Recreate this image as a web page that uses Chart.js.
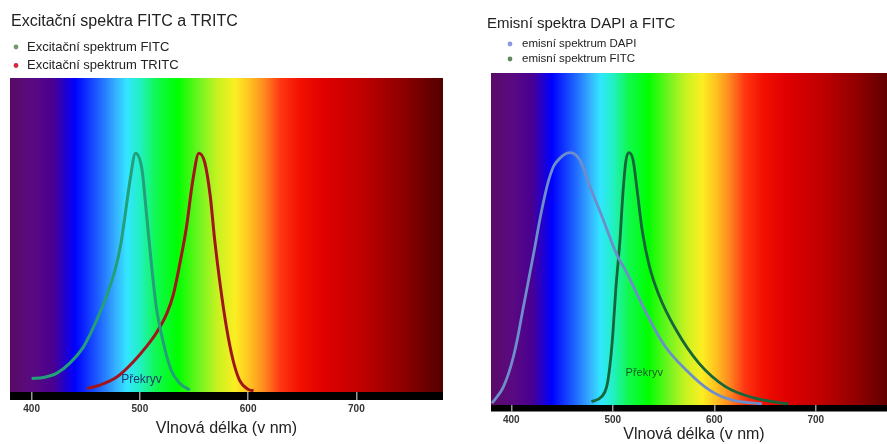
<!DOCTYPE html>
<html>
<head>
<meta charset="utf-8">
<title>Spektra FITC, TRITC, DAPI</title>
<script src="https://cdn.jsdelivr.net/npm/chart.js@4.4.1/dist/chart.umd.min.js"></script>
<style>
  html, body { margin: 0; padding: 0; background: #fff; overflow: hidden; }
  body { width: 887px; height: 444px; position: relative; }
  .panel { position: absolute; top: 0; height: 444px; }
  #left { left: 0; width: 450px; }
  #right { left: 480px; width: 420px; }
</style>
</head>
<body>
<div class="panel" id="left"><canvas id="exChart"></canvas></div>
<div class="panel" id="right"><canvas id="emChart"></canvas></div>
<script>
// rozsah vlnových délek a popisky osy (nm)
const nmMin = 380;
const nmMax = 780;
const tickNm = [400, 500, 600, 700];

// excitační spektrum FITC
const fitcExNm  = [400, 411, 423, 435, 448, 460, 469, 477, 482, 486, 491, 496, 502, 506, 511, 515, 522, 529, 537, 546];
const fitcExVal = [5.7, 6.1, 7.8, 12, 19, 30, 40, 51, 61, 73, 89, 100, 93, 75, 52, 36, 20, 9, 3.6, 0.8];

// excitační spektrum TRITC
const tritcExNm  = [451, 463, 479, 494, 506, 515, 525, 531, 537, 543, 549, 554.5, 560, 565, 569, 574, 580, 586, 592, 600, 605];
const tritcExVal = [1.5, 2.9, 6.4, 12.7, 19, 24.6, 33, 41, 54, 69, 89, 100, 96, 82, 64, 45.5, 27, 13.4, 5, 1.1, 0.5];

// emisní spektrum DAPI
const dapiEmNm  = [381, 392, 402, 412, 422, 432, 441, 450, 458, 465, 471, 477, 490, 504, 513, 533, 552, 572, 595, 617, 647];
const dapiEmVal = [0.7, 7, 19, 39, 60, 81, 94, 98.5, 100, 98.5, 94, 87, 74, 59.5, 53, 36.5, 23, 14, 6, 2, 0.4];

// emisní spektrum FITC
const fitcEmNm  = [479, 489, 494, 497, 500, 503, 507, 510, 513, 516, 520, 524, 529, 536, 545, 562, 585, 611, 640, 673];
const fitcEmVal = [1.3, 3.3, 7.3, 15, 28, 46, 65, 84, 97, 100, 97, 85, 69, 55, 44, 30, 16.5, 7.3, 2.7, 0.4];

// barvy spektra v pozadí
const specNm    = [380, 400, 420, 440, 462, 478, 488, 500, 515, 535, 555, 572, 588, 602, 615, 630, 648, 670, 705, 740, 780];
const specColor = ['#5a0a66', '#5a0a80', '#4a0090', '#0000ff', '#1e62ff', '#36b2ff', '#32e6ff', '#22f0c4', '#10f850', '#00ff00', '#70f420', '#c8f220', '#fcee22', '#ffc020', '#ff8820', '#ff3612', '#f21000', '#e00000', '#c00000', '#920000', '#520000'];

function pts(xs, ys) {
  return xs.map((v, i) => ({ x: v, y: ys[i] }));
}

// pozadí se spektrem, černý pruh, nadpis, legenda a popisek "Překryv"
const spectrumPlugin = {
  id: 'panel',
  beforeDraw(chart, args, o) {
    const { ctx, chartArea: a } = chart;
    const g = ctx.createLinearGradient(a.left, 0, a.right, 0);
    specNm.forEach((nm, i) => g.addColorStop((nm - nmMin) / (nmMax - nmMin), specColor[i]));
    ctx.save();
    ctx.fillStyle = g;
    ctx.fillRect(a.left, a.top, a.right - a.left, a.bottom - a.top);
    ctx.fillStyle = '#000';
    ctx.fillRect(a.left, a.bottom, a.right - a.left, o.barHeight);
    ctx.restore();
  },
  afterDraw(chart, args, o) {
    const { ctx, scales: { x, y } } = chart;
    ctx.save();
    ctx.textBaseline = 'middle';
    ctx.textAlign = 'left';
    ctx.fillStyle = '#222';
    ctx.font = o.titleFont;
    ctx.fillText(o.title, o.titleX, o.titleY);

    ctx.font = o.legendFont;
    chart.data.datasets.forEach((ds, i) => {
      const ly = o.legendY + i * o.legendGap;
      ctx.beginPath();
      ctx.fillStyle = o.dots[i];
      ctx.arc(o.dotX, ly, 2.4, 0, Math.PI * 2);
      ctx.fill();
      ctx.fillStyle = '#222';
      ctx.fillText(ds.label, o.legendX, ly);
    });

    ctx.textAlign = 'center';
    ctx.font = o.overlap.font;
    ctx.fillStyle = o.overlap.color;
    ctx.fillText(o.overlap.text, x.getPixelForValue(o.overlap.nm), y.getPixelForValue(o.overlap.val));
    ctx.restore();
  }
};

function xAxis(height, tickLen, tickPad, titlePad) {
  return {
    type: 'linear',
    min: nmMin,
    max: nmMax,
    afterBuildTicks: s => { s.ticks = tickNm.map(v => ({ value: v })); },
    afterFit: s => { s.height = height; },
    grid: { drawOnChartArea: false, drawTicks: true, tickLength: tickLen, color: '#9a9a9a', lineWidth: 1.5 },
    border: { display: false },
    ticks: {
      padding: tickPad,
      color: '#333',
      font: { family: 'Liberation Sans', size: 10, weight: 'bold' },
      maxRotation: 0
    },
    title: {
      display: true,
      text: 'Vlnová délka (v nm)',
      color: '#222',
      font: { family: 'Liberation Sans', size: 16 },
      padding: { top: 0, bottom: titlePad }
    }
  };
}

const yAxis = { display: false, min: 0, max: 131.5 };

// -------------------- excitace --------------------
new Chart(document.getElementById('exChart'), {
  type: 'line',
  data: {
    datasets: [
      {
        label: 'Excitační spektrum FITC',
        data: pts(fitcExNm, fitcExVal),
        borderColor: '#22a07a',
        borderWidth: 3,
        pointRadius: 0,
        cubicInterpolationMode: 'monotone'
      },
      {
        label: 'Excitační spektrum TRITC',
        data: pts(tritcExNm, tritcExVal),
        borderColor: '#a0161c',
        borderWidth: 3,
        pointRadius: 0,
        cubicInterpolationMode: 'monotone'
      }
    ]
  },
  options: {
    responsive: true,
    maintainAspectRatio: false,
    animation: false,
    layout: { padding: { left: 10, right: 7, top: 78, bottom: 0 } },
    scales: { x: xAxis(52, 8, 3, 6), y: yAxis },
    plugins: {
      legend: { display: false },
      tooltip: { enabled: false },
      panel: {
        barHeight: 8,
        title: 'Excitační spektra FITC a TRITC',
        titleFont: '16px "Liberation Sans"',
        titleX: 11, titleY: 22,
        legendFont: '13px "Liberation Sans"',
        legendX: 27, legendY: 47, legendGap: 18.5,
        dotX: 16,
        dots: ['#6e9a6e', '#d8283a'],
        overlap: { text: 'Překryv', nm: 501.5, val: 5, color: '#1e3c6e', font: '12px "Liberation Sans"' }
      }
    }
  },
  plugins: [spectrumPlugin]
});

// -------------------- emise --------------------
new Chart(document.getElementById('emChart'), {
  type: 'line',
  data: {
    datasets: [
      {
        label: 'emisní spektrum DAPI',
        data: pts(dapiEmNm, dapiEmVal),
        borderColor: '#6d8ecb',
        borderWidth: 2.8,
        pointRadius: 0,
        tension: 0.4
      },
      {
        label: 'emisní spektrum FITC',
        data: pts(fitcEmNm, fitcEmVal),
        borderColor: '#17653a',
        borderWidth: 2.8,
        pointRadius: 0,
        cubicInterpolationMode: 'monotone'
      }
    ]
  },
  options: {
    responsive: true,
    maintainAspectRatio: false,
    animation: false,
    layout: { padding: { left: 11, right: 3, top: 73, bottom: 0 } },
    scales: { x: xAxis(39, 7, 2, 0), y: yAxis },
    plugins: {
      legend: { display: false },
      tooltip: { enabled: false },
      panel: {
        barHeight: 6.5,
        title: 'Emisní spektra DAPI a FITC',
        titleFont: '15px "Liberation Sans"',
        titleX: 7, titleY: 23.5,
        legendFont: '11.5px "Liberation Sans"',
        legendX: 42, legendY: 44, legendGap: 15,
        dotX: 30,
        dots: ['#8a9ae0', '#5e8a5e'],
        overlap: { text: 'Překryv', nm: 531, val: 12.7, color: '#1a5a2a', font: '11px "Liberation Sans"' }
      }
    }
  },
  plugins: [spectrumPlugin]
});
</script>
</body>
</html>
